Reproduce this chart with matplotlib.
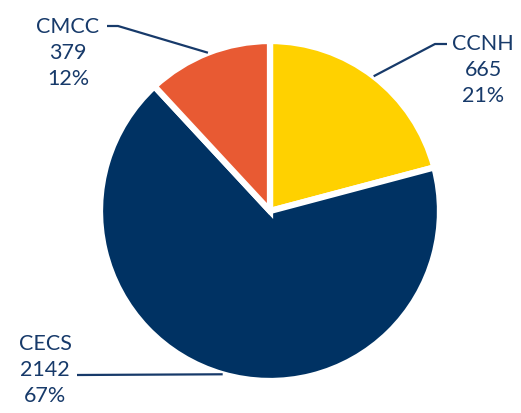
import numpy as np
from matplotlib import pyplot as plt

colleges = ['CCNH', 'CECS', 'CMCC']
counts = [665, 2142, 379]
colors = ['#FFD100', '#003263', '#E85A33']

text_color = '#173A6A'
W, H = 521, 414
cx, cy, radius = 270, H - 212, 170

# label text centres (pixel coords, y from top) and elbow of leader line
label_pos = {'CCNH': (483, 70), 'CECS': (45, 370), 'CMCC': (68, 53)}
elbows = {
    'CCNH': [(447, 45), (435, 45)],
    'CECS': [(77, 376)],
    'CMCC': [(107, 27), (118, 27)],
}

fig = plt.figure(figsize=(W / 100, H / 100), dpi=100)
ax = fig.add_axes([0, 0, 1, 1])

wedges, _ = ax.pie(counts, colors=colors, startangle=90, counterclock=False,
                   center=(cx, cy), radius=radius, frame=True,
                   wedgeprops=dict(edgecolor='white', linewidth=4.5))
ax.set_xlim(0, W)
ax.set_ylim(0, H)
ax.set_aspect('equal')
ax.axis('off')

total = sum(counts)
for name, n, w in zip(colleges, counts, wedges):
    mid = np.deg2rad((w.theta1 + w.theta2) / 2)
    ex = cx + radius * np.cos(mid)
    ey = cy + radius * np.sin(mid)
    pts = [(x, H - y) for x, y in elbows[name]] + [(ex, ey)]
    xs, ys = zip(*pts)
    ax.plot(xs, ys, color=text_color, lw=1.6, solid_capstyle='butt')
    tx, ty = label_pos[name]
    ax.text(tx, H - ty, f'{name}\n{n}\n{round(100 * n / total)}%',
            ha='center', va='center', fontsize=15.5, color=text_color,
            family='Lato', linespacing=1.4)

fig.savefig('out.png', dpi=100)
